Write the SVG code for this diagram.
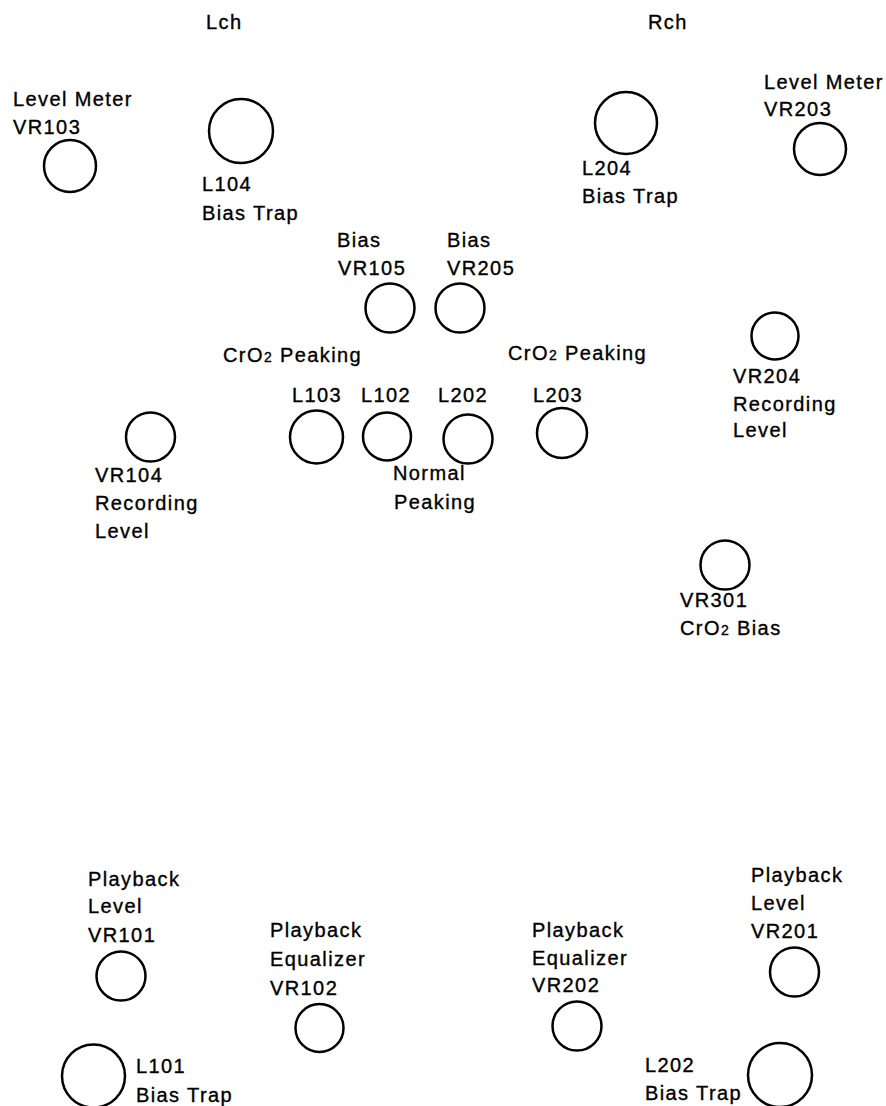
<svg xmlns="http://www.w3.org/2000/svg" width="886" height="1106" viewBox="0 0 886 1106">
<style>
text{font-family:"Liberation Sans",Arial,sans-serif;font-size:20px;letter-spacing:1.4px;fill:#000;stroke:#000;stroke-width:0.35}
.sub{font-size:14px}
circle{fill:none;stroke:#000;stroke-width:2.5}
</style>
<rect width="886" height="1106" fill="#fff"/>
<g id="headers">
<text x="206" y="29">Lch</text>
<text x="648" y="29">Rch</text>
</g>
<g id="VR103"><text x="13" y="106">Level Meter</text><text x="13" y="134">VR103</text><circle cx="70" cy="166" r="26"/></g>
<g id="L104"><circle cx="241" cy="131" r="32"/><text x="202" y="191">L104</text><text x="202" y="220">Bias Trap</text></g>
<g id="L204"><circle cx="626" cy="123" r="31"/><text x="582" y="175">L204</text><text x="582" y="203">Bias Trap</text></g>
<g id="VR203"><text x="764" y="89">Level Meter</text><text x="764" y="116">VR203</text><circle cx="820" cy="149" r="26"/></g>
<g id="VR105"><text x="337" y="247">Bias</text><text x="338" y="275">VR105</text><circle cx="390" cy="308" r="24.5"/></g>
<g id="VR205"><text x="447" y="247">Bias</text><text x="447" y="275">VR205</text><circle cx="460" cy="308" r="24.5"/></g>
<g id="label-cro2-left"><text x="223" y="362">CrO<tspan class="sub">2</tspan> Peaking</text></g>
<g id="label-cro2-right"><text x="508" y="360">CrO<tspan class="sub">2</tspan> Peaking</text></g>
<g id="L103"><text x="292" y="402">L103</text><circle cx="316.5" cy="437" r="26.5"/></g>
<g id="L102"><text x="361" y="402">L102</text><circle cx="387" cy="436.5" r="24"/></g>
<g id="L202-mid"><text x="438" y="402">L202</text><circle cx="468" cy="439" r="24.5"/></g>
<g id="L203"><text x="533" y="402">L203</text><circle cx="562" cy="433" r="25"/></g>
<g id="label-normal"><text x="393" y="480">Normal</text><text x="394" y="509">Peaking</text></g>
<g id="VR104"><circle cx="150.5" cy="437" r="24.5"/><text x="95" y="482">VR104</text><text x="95" y="510">Recording</text><text x="95" y="538">Level</text></g>
<g id="VR204"><circle cx="775" cy="336" r="23.5"/><text x="733" y="383">VR204</text><text x="733" y="411">Recording</text><text x="733" y="437">Level</text></g>
<g id="VR301"><circle cx="725" cy="565" r="24.5"/><text x="680" y="607">VR301</text><text x="680" y="635">CrO<tspan class="sub">2</tspan> Bias</text></g>
<g id="VR101"><text x="88" y="886">Playback</text><text x="88" y="913">Level</text><text x="88" y="942">VR101</text><circle cx="121" cy="976" r="24.5"/></g>
<g id="VR102"><text x="270" y="937">Playback</text><text x="270" y="966">Equalizer</text><text x="270" y="995">VR102</text><circle cx="319.5" cy="1028" r="24"/></g>
<g id="L101"><circle cx="93.5" cy="1076" r="31.5"/><text x="136" y="1073">L101</text><text x="136" y="1102">Bias Trap</text></g>
<g id="VR202"><text x="532" y="937">Playback</text><text x="532" y="965">Equalizer</text><text x="532" y="992">VR202</text><circle cx="577" cy="1026" r="24.5"/></g>
<g id="VR201"><text x="751" y="882">Playback</text><text x="751" y="910">Level</text><text x="751" y="938">VR201</text><circle cx="794.5" cy="972" r="24.5"/></g>
<g id="L202-bottom"><circle cx="780" cy="1075" r="32"/><text x="645" y="1072">L202</text><text x="645" y="1100">Bias Trap</text></g>
<g id="connectors"/>
</svg>
